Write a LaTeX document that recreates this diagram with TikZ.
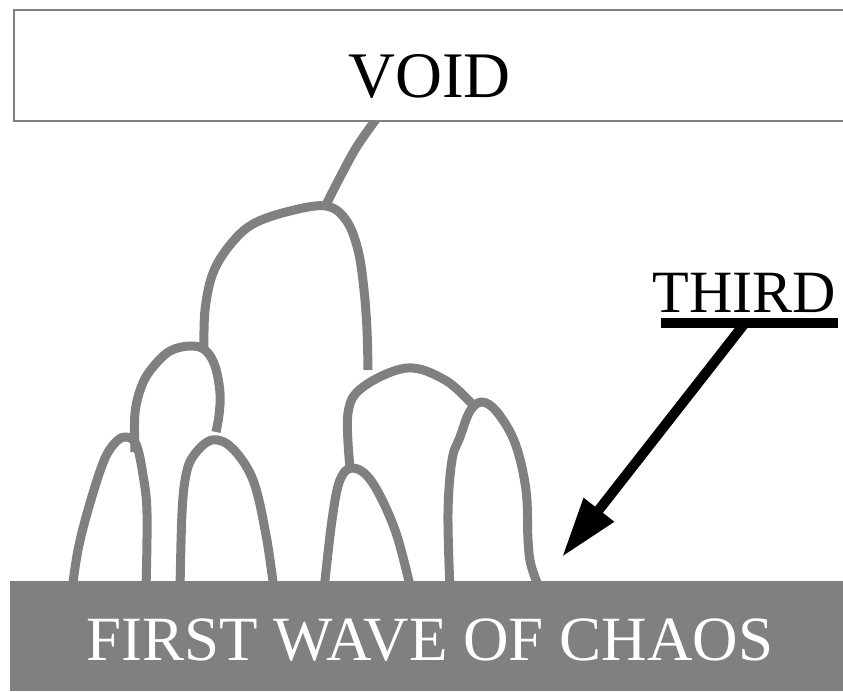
\documentclass[tikz,border=0pt]{standalone}
\usepackage{fontspec}
\setmainfont{Liberation Serif}
\usetikzlibrary{arrows.meta}
\definecolor{chaosgray}{RGB}{128,128,128}
\begin{document}
\begin{tikzpicture}[x=1pt,y=-1pt,
  branch/.style={draw=chaosgray,line width=9pt,line join=round},
  voidbox/.style={draw=chaosgray,line width=1.5pt,fill=white,minimum width=831pt,minimum height=111pt,inner sep=0pt,font=\fontsize{65}{65}\selectfont,text height=63pt,text depth=0pt},
  chaosbox/.style={fill=chaosgray,minimum width=840pt,minimum height=110pt,inner sep=0pt,text=white,font=\fontsize{63}{63}\selectfont,text height=48pt,text depth=0pt},
  labeltext/.style={font=\fontsize{60}{60}\selectfont,inner sep=0pt,anchor=base},
  pointer/.style={draw=black,line width=10pt,-{Triangle[length=60pt,width=36pt]}}
]
\useasboundingbox (0,0) rectangle (843,691);
% branches
\draw[branch] plot[smooth,tension=0.6] coordinates {(377,118) (356,148) (336,185) (325,207)};
\draw[branch] plot[smooth,tension=0.6] coordinates {(204,352) (205,310) (213,273) (230,245) (253,224) (290,211) (326,206) (346,220) (358,250) (364,290) (367,330) (368,370)};
\draw[branch] plot[smooth,tension=0.6] coordinates {(135,452) (135,413) (142,385) (153,367) (170,351) (190,346) (205,350) (215,366) (220,393) (219,415) (216,432)};
\draw[branch] plot[smooth,tension=0.6] coordinates {(72,590) (78,550) (88,510) (103,463) (114,444) (125,437) (136,444) (143,475) (147,513) (146,590)};
\draw[branch] plot[smooth,tension=0.6] coordinates {(180,590) (182,513) (186,475) (194,455) (212,440) (232,448) (253,480) (266,535) (274,590)};
\draw[branch] plot[smooth,tension=0.6] coordinates {(324,590) (332,520) (340,480) (353,468) (372,482) (395,530) (411,590)};
\draw[branch] plot[smooth,tension=0.6] coordinates {(350,468) (348,413) (363,387) (407,368) (445,380) (472,404)};
\draw[branch] plot[smooth,tension=0.6] coordinates {(450,590) (448,513) (452,460) (460,437) (470,411) (482,402) (497,412) (515,443) (526,490) (528,540) (531,565) (540,590)};
% boxes
\node[voidbox] (void) at (429.5,65.5) {VOID};
\node[chaosbox] (chaos) at (430,636) {FIRST WAVE OF CHAOS};
% label and pointer
\node[labeltext] (third) at (744.5,312) {THIRD};
\coordinate (barL) at (661,323);
\coordinate (barR) at (838,323);
\coordinate (tail) at (745,323);
\coordinate (tip) at (562,557);
\draw[line width=10pt] (barL) -- (barR);
\draw[pointer] (tail) -- (tip);
\end{tikzpicture}
\end{document}
